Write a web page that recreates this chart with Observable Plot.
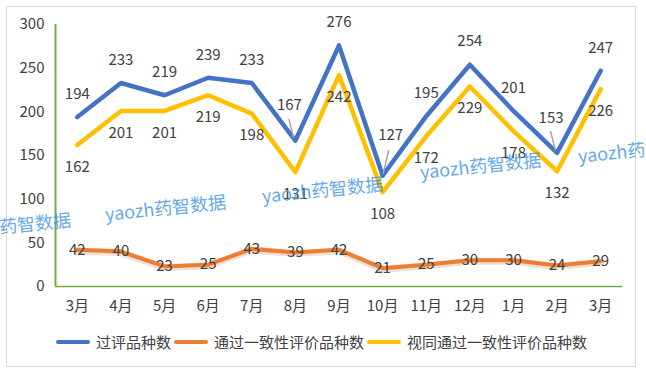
<!DOCTYPE html>
<html><head><meta charset="utf-8">
<script src="https://cdn.jsdelivr.net/npm/d3@7"></script>
<script src="https://cdn.jsdelivr.net/npm/@observablehq/plot@0.6"></script>
<style>
body{margin:0;background:#fff;font-family:"Noto Sans CJK SC","Noto Sans",sans-serif;}
#wrap{position:relative;width:646px;height:373px;overflow:hidden;background:#fff;}
#frame{position:absolute;left:6px;top:6px;width:628px;height:359px;border:1px solid #d9d9d9;}
#chart{position:absolute;left:0;top:0;}
#legend{position:absolute;left:0;top:331px;width:646px;height:22px;display:flex;justify-content:center;align-items:center;font-size:15px;color:#404040;line-height:22px;}
.item{display:flex;align-items:center;margin-right:3px;}
.sw{width:34px;height:4px;border-radius:2px;margin-right:6px;}
.wm{position:absolute;color:#3f95e0;opacity:.8;font-size:18px;line-height:18px;transform:rotate(-6deg);transform-origin:left center;white-space:nowrap;pointer-events:none;}
</style></head>
<body><div id="wrap"><div id="frame"></div><div id="chart"></div><div id="legend"></div></div>
<script>
// ---- data ----
const months = ["3月","4月","5月","6月","7月","8月","9月","10月","11月","12月","1月","2月","3月"];
const seriesNames = ["过评品种数","通过一致性评价品种数","视同通过一致性评价品种数"];
const reviewed = [194,233,219,239,233,167,276,127,195,254,201,153,247];
const passedConsistency = [42,40,23,25,43,39,42,21,25,30,30,24,29];
const deemedPassed = [162,201,201,219,198,131,242,108,172,229,178,132,226];
const yTicks = [0,50,100,150,200,250,300];
const seriesColors = ["#4472C4","#ED7D31","#FFC000"];

// ---- build ----
const idx = months.map((_, i) => i);
const rows = (vals) => vals.map((v, i) => ({i, v}));
const blue = rows(reviewed), orange = rows(passedConsistency), yellow = rows(deemedPassed);
const leaderLeft = new Set([5, 11]);
const leaderRight = new Set([7]);
const blueNormal = blue.filter(d => !leaderLeft.has(d.i) && !leaderRight.has(d.i));
const blueLeft = blue.filter(d => leaderLeft.has(d.i));
const blueRight = blue.filter(d => leaderRight.has(d.i));
const green = "#70AD47";
const txt = "#404040";

const chart = Plot.plot({
  width: 646,
  height: 320,
  marginLeft: 55,
  marginRight: 24,
  marginTop: 24,
  marginBottom: 34,
  style: {fontSize: "15px", fontFamily: '"Noto Sans CJK SC","Noto Sans",sans-serif', color: txt, background: "transparent"},
  x: {domain: [-0.5, months.length - 0.5]},
  y: {domain: [0, 300]},
  marks: [
    Plot.axisY({ticks: yTicks, tickSize: 0, tickPadding: 11, label: null, fontSize: 15}),
    Plot.axisX({ticks: idx, tickFormat: i => months[i], tickSize: 0, tickPadding: 14, label: null, fontSize: 15}),
    Plot.ruleX([-0.5], {stroke: green, strokeWidth: 2}),
    Plot.ruleY([0], {stroke: green, strokeWidth: 1.5}),
    // orange with soft halo
    Plot.line(orange, {x: "i", y: "v", stroke: "#d9b8a0", strokeWidth: 7, strokeOpacity: 0.45, dy: 1}),
    Plot.line(orange, {x: "i", y: "v", stroke: seriesColors[1], strokeWidth: 4, strokeLinejoin: "round"}),
    Plot.line(blue, {x: "i", y: "v", stroke: seriesColors[0], strokeWidth: 4.5, strokeLinejoin: "round"}),
    Plot.line(yellow, {x: "i", y: "v", stroke: seriesColors[2], strokeWidth: 4.5, strokeLinejoin: "round"}),
    // leader lines
    Plot.link(blueLeft, {x1: d => d.i - 0.04, y1: d => d.v + 3, x2: d => d.i - 0.15, y2: d => d.v + 25, stroke: "#a6a6a6", strokeWidth: 1.5}),
    Plot.link(blueRight, {x1: d => d.i + 0.01, y1: d => d.v + 2, x2: d => d.i + 0.14, y2: d => d.v + 29, stroke: "#a6a6a6", strokeWidth: 1.5}),
    // labels
    Plot.text(blueNormal, {x: "i", y: "v", text: "v", dy: -23, fill: txt, fontSize: 15}),
    Plot.text(blueLeft, {x: "i", y: "v", text: "v", dy: -35, dx: -6, fill: txt, fontSize: 15}),
    Plot.text(blueRight, {x: "i", y: "v", text: "v", dy: -40, dx: 8, fill: txt, fontSize: 15}),
    Plot.text(yellow, {x: "i", y: "v", text: "v", dy: 22, fill: txt, fontSize: 15}),
    Plot.text(orange, {x: "i", y: "v", text: "v", fill: txt, fontSize: 15})
  ]
});
document.getElementById("chart").appendChild(chart);

// legend
const legend = document.getElementById("legend");
seriesNames.forEach((name, k) => {
  const it = document.createElement("div");
  it.className = "item";
  const sw = document.createElement("span");
  sw.className = "sw";
  sw.style.background = seriesColors[k];
  const t = document.createElement("span");
  t.textContent = name;
  it.appendChild(sw); it.appendChild(t);
  legend.appendChild(it);
});

// watermarks (partly cut at the edges, as in the reference)
const wmText = "yaozh药智数据";
const wmSpots = [[-50, 231], [105, 213], [262, 195], [420, 171], [578, 155]];
const wrap = document.getElementById("wrap");
wmSpots.forEach(([l, y]) => {
  const w = document.createElement("div");
  w.className = "wm";
  w.textContent = wmText;
  w.style.left = l + "px";
  w.style.top = (y - 9) + "px";
  wrap.appendChild(w);
});
</script>
</body></html>
